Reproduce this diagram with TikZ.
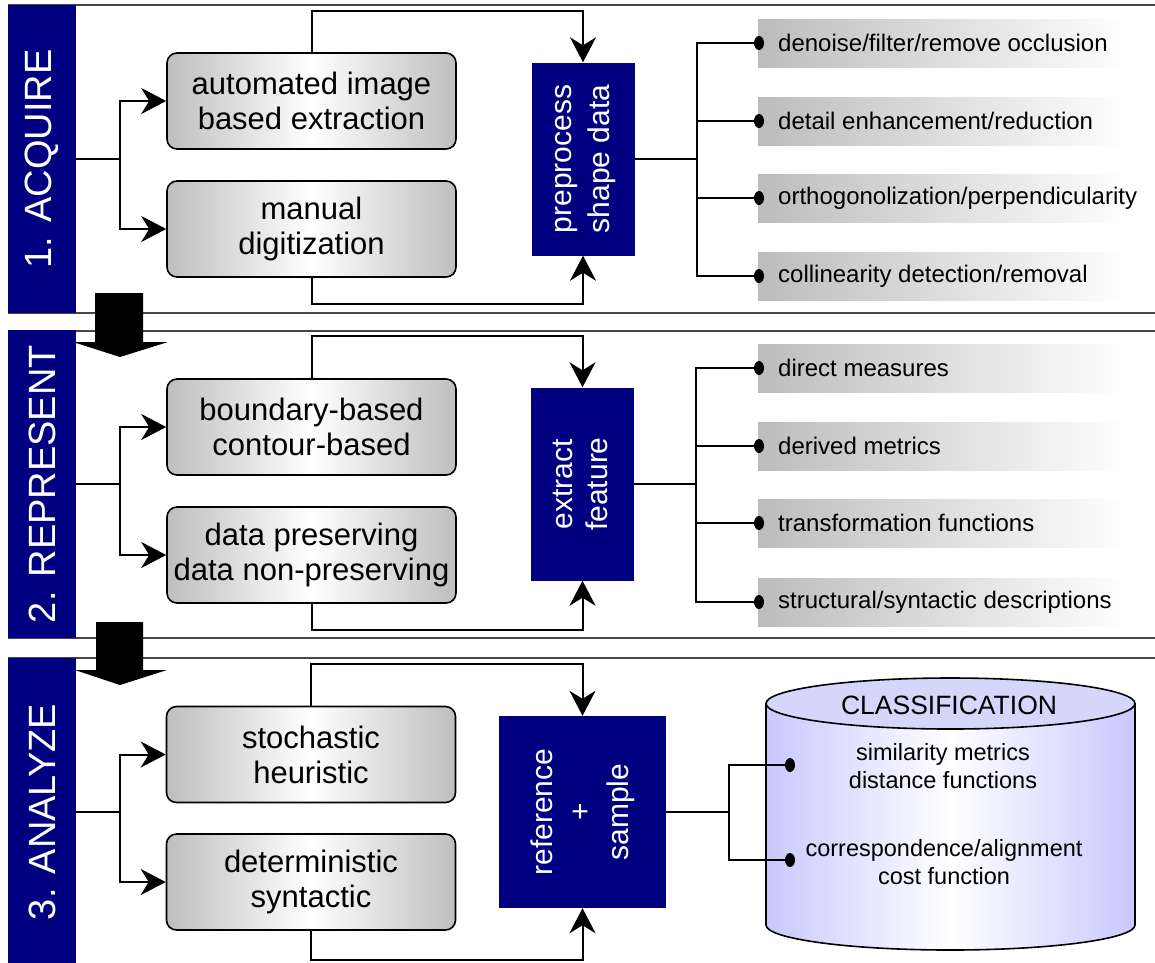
\documentclass[tikz,border=0pt]{standalone}
\usepackage{fontspec}
\setmainfont{Liberation Sans}
\usepackage{graphicx}
\usetikzlibrary{arrows.meta,shapes.geometric,calc}
\definecolor{navy}{RGB}{0,0,128}
\definecolor{boxgray}{RGB}{190,190,190}
\definecolor{bargray}{RGB}{188,188,188}
\definecolor{lav}{RGB}{200,200,255}
\definecolor{lavtop}{RGB}{214,214,250}
\definecolor{framegray}{RGB}{70,70,70}
\newcommand\itxt[1]{\makebox[331pt][l]{#1}}
\newcommand\rtxt[1]{\rotatebox{90}{\begin{tabular}{@{}c@{}}#1\end{tabular}}}
\begin{document}
\begin{tikzpicture}[x=1pt,y=-1pt,
  frame/.style={draw=framegray,line width=1.5pt},
  conn/.style={line width=2pt},
  arr/.style={line width=2pt,-{Stealth[length=25pt,width=26pt,inset=8pt]}},
  lane/.style={fill=navy,inner sep=0pt,text=white,minimum width=68pt,font=\fontsize{38}{40}\selectfont},
  gbox/.style={draw,line width=1.6pt,rounded corners=10pt,left color=boxgray,right color=boxgray,middle color=white,minimum width=289pt,minimum height=96pt,inner sep=0pt,align=center,font=\fontsize{31}{35}\selectfont},
  blk/.style={fill=navy,text=white,inner sep=0pt,font=\fontsize{30}{38}\selectfont},
  item/.style={anchor=west,left color=bargray,right color=white,minimum width=371pt,minimum height=48pt,inner xsep=20pt,inner ysep=0pt,font=\fontsize{24}{28}\selectfont},
  dot/.style={ellipse,fill=black,inner sep=0pt,minimum width=10pt,minimum height=14pt},
  cyltext/.style={align=center,font=\fontsize{23.5}{28}\selectfont,inner sep=0pt},
  bigarrow/.style={fill=black}
]
\useasboundingbox (0,0) rectangle (1155,962);
% section frames
\draw[frame] (8,5) -- (1155,5);
\draw[frame] (8,313) -- (1155,313);
\draw[frame] (8,331) -- (1155,331);
\draw[frame] (8,638) -- (1155,638);
\draw[frame] (8,658) -- (1155,658);
% lanes
\node[lane,minimum height=308pt] (bar1) at (42,159) {\rotatebox{90}{1. ACQUIRE}};
\node[lane,minimum height=308pt] (bar2) at (42,484) {\rotatebox{90}{2. REPRESENT}};
\node[lane,minimum height=308pt] (bar3) at (42,812) {\rotatebox{90}{3. ANALYZE}};
% big arrows
\fill[bigarrow] (95,293) -- (143,293) -- (143,342) -- (168,342) -- (120,357) -- (73,342) -- (95,342) -- cycle;
\fill[bigarrow] (96,622) -- (143,622) -- (143,670) -- (167,670) -- (120,685) -- (75,670) -- (96,670) -- cycle;

% ===== section 1 =====
\node[gbox] (a1) at (311.5,101) {automated image\\based extraction};
\node[gbox] (a2) at (311.5,229) {manual\\digitization};
\node[blk,minimum width=103pt,minimum height=193pt] (pre) at (583,159) {\rtxt{preprocess\\shape data}};
\coordinate (j1) at (120,159);
\draw[conn] (bar1.east) -- (j1);
\draw[arr] (j1) |- (a1.west);
\draw[arr] (j1) |- (a2.west);
\draw[arr] (a1.north) -- ++(0,-41) -| (pre.north);
\draw[arr] (a2.south) -- ++(0,26) -| (pre.south);
\node[item] (i11) at (758,43) {\itxt{denoise/filter/remove occlusion}};
\node[item] (i12) at (758,121) {\itxt{detail enhancement/reduction}};
\node[item] (i13) at (758,198) {\itxt{orthogonolization/perpendicularity}};
\node[item] (i14) at (758,276) {\itxt{collinearity detection/removal}};
\node[dot] (d11) at (759,43) {};
\node[dot] (d12) at (759,121) {};
\node[dot] (d13) at (759,198) {};
\node[dot] (d14) at (759,276) {};
\path (pre.east) ++(62,0) coordinate (k1);
\draw[conn] (pre.east) -- (k1);
\draw[conn] (d11.center) -| (k1);
\draw[conn] (d14.center) -| (k1);
\draw[conn] (d12.center) -- (d12 -| k1);
\draw[conn] (d13.center) -- (d13 -| k1);

% ===== section 2 =====
\node[gbox] (b1) at (311.5,427) {boundary-based\\contour-based};
\node[gbox] (b2) at (311.5,555) {data preserving\\data non-preserving};
\node[blk,minimum width=103pt,minimum height=193pt,font=\fontsize{30}{35}\selectfont] (ext) at (582.5,484) {\rtxt{extract\\feature}};
\coordinate (j2) at (120,484);
\draw[conn] (bar2.east) -- (j2);
\draw[arr] (j2) |- (b1.west);
\draw[arr] (j2) |- (b2.west);
\draw[arr] (b1.north) -- ++(0,-42) -| (ext.north);
\draw[arr] (b2.south) -- ++(0,26) -| (ext.south);
\node[item] (i21) at (758,368) {\itxt{direct measures}};
\node[item] (i22) at (758,446) {\itxt{derived metrics}};
\node[item] (i23) at (758,523) {\itxt{transformation functions}};
\node[item] (i24) at (758,602) {\itxt{structural/syntactic descriptions}};
\node[dot] (d21) at (759,368) {};
\node[dot] (d22) at (759,446) {};
\node[dot] (d23) at (759,523) {};
\node[dot] (d24) at (759,602) {};
\path (ext.east) ++(62,0) coordinate (k2);
\draw[conn] (ext.east) -- (k2);
\draw[conn] (d21.center) -| (k2);
\draw[conn] (d24.center) -| (k2);
\draw[conn] (d22.center) -- (d22 -| k2);
\draw[conn] (d23.center) -- (d23 -| k2);

% ===== section 3 =====
\node[gbox] (c1) at (311,754.5) {stochastic\\heuristic};
\node[gbox] (c2) at (311,882) {deterministic\\syntactic};
\node[blk,minimum width=167pt,minimum height=192pt] (ref) at (582.5,812) {\rtxt{reference\\+\\sample}};
\coordinate (j3) at (120,812);
\draw[conn] (bar3.east) -- (j3);
\draw[arr] (j3) |- (c1.west);
\draw[arr] (j3) |- (c2.west);
\draw[arr] (c1.north) -- ++(0,-42) -| (ref.north);
\draw[arr] (c2.south) -- ++(0,29) -| (ref.south);
% cylinder
\shade[left color=lav,right color=lav,middle color=white] (766,703) -- (766,925) .. controls (766,938.8) and (848.6,950) .. (950.5,950) .. controls (1052.4,950) and (1135,938.8) .. (1135,925) -- (1135,703) -- cycle;
\draw[line width=1.6pt] (766,703) -- (766,925) .. controls (766,938.8) and (848.6,950) .. (950.5,950) .. controls (1052.4,950) and (1135,938.8) .. (1135,925) -- (1135,703);
\draw[line width=1.6pt,fill=lavtop] (950.5,703.5) ellipse [x radius=184.5, y radius=25.5];
\node[inner sep=0pt,font=\fontsize{26.5}{30}\selectfont] (cls) at (949,705) {CLASSIFICATION};
\node[cyltext] (sim) at (943,766) {similarity metrics\\distance functions};
\node[cyltext] (cor) at (944,862) {correspondence/alignment\\cost function};
\node[dot] (e1) at (790,765) {};
\node[dot] (e2) at (790,860) {};
\path (ref.east) ++(63,0) coordinate (k3);
\draw[conn] (ref.east) -- (k3);
\draw[conn] (e1.center) -| (k3);
\draw[conn] (e2.center) -| (k3);
\end{tikzpicture}
\end{document}
